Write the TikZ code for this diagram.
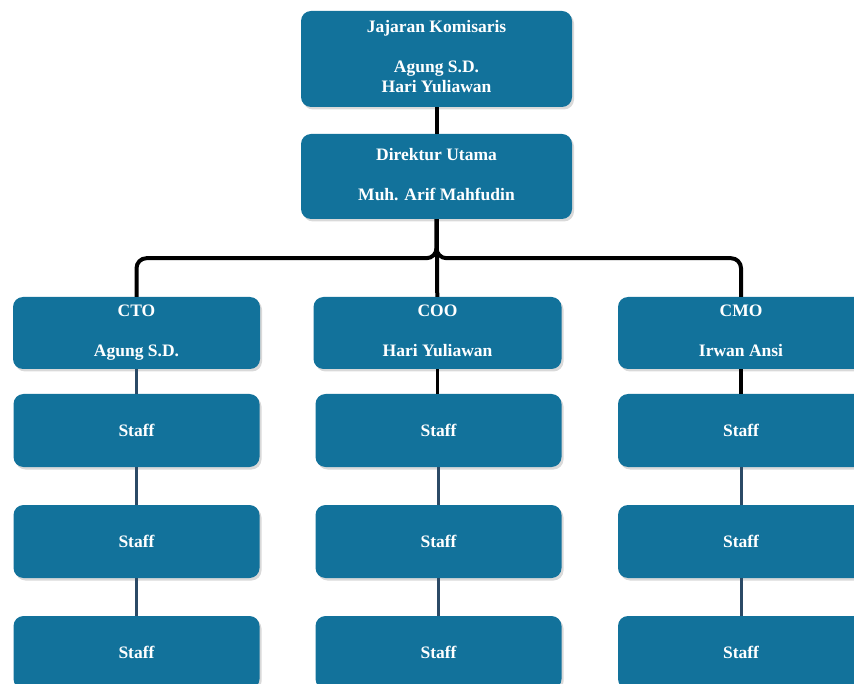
\documentclass[tikz,border=0pt]{standalone}
\usepackage{fontspec}
\setmainfont{Liberation Serif}
\usetikzlibrary{shadows}
\definecolor{boxblue}{HTML}{12729B}
\definecolor{slate}{HTML}{2B4A66}

\begin{document}
\begin{tikzpicture}[x=1pt,y=-1pt,
  box/.style={fill=boxblue,rounded corners=10pt,text=white,inner sep=0pt,
    font=\fontsize{17.5}{20}\selectfont\bfseries,align=center,
    drop shadow={shadow xshift=2pt,shadow yshift=-2.5pt,opacity=0.3}},
  link/.style={line width=4pt,black},
  stafflink/.style={line width=3pt,slate}]
  \useasboundingbox (0,0) rectangle (854,684);
  \clip (0,0) rectangle (854,684);
  \path (436.5,59) node[box,minimum width=271pt,minimum height=96pt] (kom)
    {\strut Jajaran Komisaris\\[20pt]Agung S.D.\\Hari Yuliawan\strut}
  (436.5,176.5) node[box,minimum width=271pt,minimum height=85pt] (dir)
    {\strut Direktur Utama\\[20pt]Muh. Arif Mahfudin\strut};
  \path (136.5,333) node[box,minimum width=247pt,minimum height=72pt] (cto) {\strut CTO\\[20pt]Agung S.D.\strut}
  (437.5,333) node[box,minimum width=248pt,minimum height=72pt] (coo) {\strut COO\\[20pt]Hari Yuliawan\strut}
  (741,333) node[box,minimum width=246pt,minimum height=72pt] (cmo) {\strut CMO\\[20pt]Irwan Ansi\strut};
  \foreach \col/\x in {cto/136.5,coo/438.5,cmo/741}
    \foreach \row/\y in {1/430.5,2/541.5,3/652.5}
      \path (\x,\y) node[box,minimum width=246pt,minimum height=73pt] (\col\row) {Staff};
  % connectors
  \draw[link] (kom) -- (dir);
  \draw[link] (dir) -- (coo);
  \draw[link,rounded corners=10pt] (dir.south) -- ++(0,39) -| (cto.north);
  \draw[link,rounded corners=10pt] (dir.south) -- ++(0,39) -| (cmo.north);
  \draw[stafflink] (cto) -- (cto1);
  \draw[link,line width=3.5pt] (coo.south) -- (coo.south|-coo1.north);
  \draw[link,line width=3.5pt] (cmo) -- (cmo1);
  \foreach \col in {cto,coo,cmo} {
    \draw[stafflink] (\col1) -- (\col2);
    \draw[stafflink] (\col2) -- (\col3);
  }
\end{tikzpicture}
\end{document}
